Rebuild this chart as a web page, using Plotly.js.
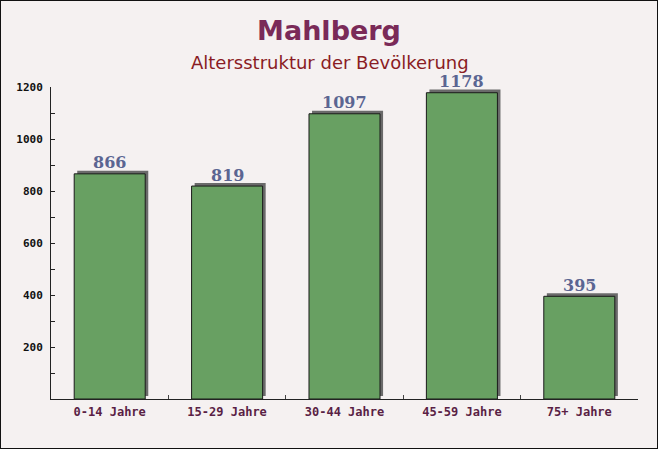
<!DOCTYPE html>
<html>
<head>
<meta charset="utf-8">
<script src="https://cdn.plot.ly/plotly-3.0.1.min.js"></script>
<style>
html,body{margin:0;padding:0;background:#f5f1f1;}
#chart{width:658px;height:449px;box-sizing:border-box;border:1px solid #111;}
</style>
</head>
<body>
<div id="chart"></div>
<script>
const categories = ["0-14 Jahre", "15-29 Jahre", "30-44 Jahre", "45-59 Jahre", "75+ Jahre"];
const values = [866, 819, 1097, 1178, 395];
const yTickVals = [200, 400, 600, 800, 1000, 1200];
const title = "Mahlberg";
const subtitle = "Altersstruktur der Bevölkerung";

const barWidth = 0.605;

const shadow = {
  type: "bar", x: categories, y: values, base: 12,
  width: barWidth, offset: -barWidth / 2 + 0.026,
  marker: { color: "#6a6a6a", line: { width: 0 } },
  hoverinfo: "skip", showlegend: false
};
const bars = {
  type: "bar", x: categories, y: values,
  width: barWidth,
  marker: { color: "rgb(104,160,98)", line: { color: "#1a1a1a", width: 1 } },
  hoverinfo: "skip", showlegend: false
};

const valueLabels = categories.map((c, i) => ({
  x: c, y: values[i], xref: "x", yref: "y", text: String(values[i]),
  showarrow: false, xanchor: "center", yanchor: "middle", yshift: 11,
  font: { family: "DejaVu Serif, serif", size: 16, color: "#5b6592", weight: "bold" }
}));

const layout = {
  width: 656, height: 447,
  paper_bgcolor: "#f5f1f1", plot_bgcolor: "rgba(0,0,0,0)",
  margin: { l: 50, r: 19, t: 86, b: 49 },
  barmode: "overlay",
  title: { text: "<b>" + title + "</b>", x: 0.5, xanchor: "center", y: 0.935, yanchor: "middle",
    font: { family: "DejaVu Sans, sans-serif", size: 27, color: "#7a2a58" } },
  annotations: [{ text: subtitle, xref: "paper", yref: "paper", x: 0.5, y: 1, xshift: -15, yshift: 25, showarrow: false,
    xanchor: "center", yanchor: "middle",
    font: { family: "DejaVu Sans, sans-serif", size: 18, color: "#8a1c24" } }].concat(valueLabels),
  xaxis: {
    type: "category", showline: true, linecolor: "#222", linewidth: 1,
    ticks: "inside", tickson: "boundaries", ticklen: 4, tickcolor: "#444",
    tickfont: { family: "DejaVu Sans Mono, monospace", size: 12, color: "#5a1f45", weight: "bold" },
    ticklabelstandoff: 2,
    showgrid: false, zeroline: false
  },
  yaxis: {
    range: [0, 1200], showline: true, linecolor: "#222", linewidth: 1,
    tickvals: yTickVals, ticks: "inside", ticklen: 4, tickcolor: "#222",
    minor: { dtick: 100, ticks: "inside", ticklen: 4, tickcolor: "#222" },
    tickfont: { family: "DejaVu Sans Mono, monospace", size: 11, color: "#111", weight: "bold" },
    ticklabelstandoff: 5,
    showgrid: false, zeroline: false
  },
  bargap: 0.4
};

Plotly.newPlot("chart", [shadow, bars], layout, { displayModeBar: false, staticPlot: true });
</script>
</body>
</html>
